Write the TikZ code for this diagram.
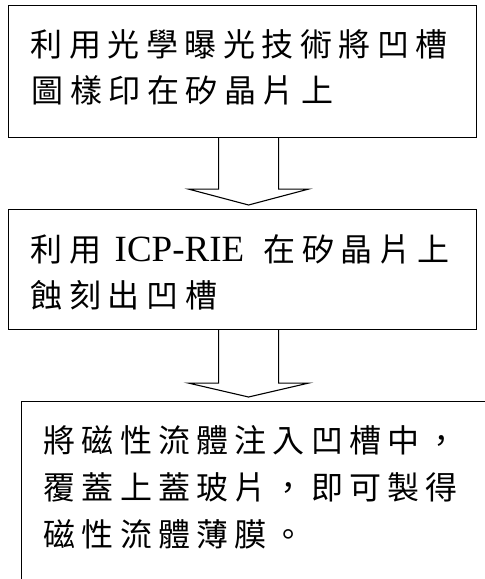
\documentclass[tikz,border=0pt]{standalone}
\usepackage{fontspec}
\setmainfont{Liberation Serif}
\newfontfamily\cjk{Noto Sans CJK TC}
\usetikzlibrary{calc}
\newcommand\cjkrow[2]{\def\rowpitch{#1}\rowloop#2\relax}
\def\rowloop#1{\ifx#1\relax\else\makebox[\rowpitch][l]{#1}\expandafter\rowloop\fi}
\tikzset{
  stepbox/.style={draw, line width=1.1pt, inner sep=0pt, anchor=north west},
  txtline/.style={anchor=west, inner sep=0pt, text height=28.2pt, text depth=3.8pt,
                  font=\cjk\fontsize{32}{38}\selectfont},
  hollowarrow/.style={draw, line width=1.1pt, line join=miter}
}
\begin{document}
\begin{tikzpicture}[x=1pt,y=1pt]
\useasboundingbox (0,0) rectangle (485,-579);
\clip (0,0) rectangle (485,-579);
\fill[white] (0,0) rectangle (485,-579);
% boxes
\node[stepbox, minimum width=468pt, minimum height=132pt] (b1) at (8,-5) {};
\node[stepbox, minimum width=468pt, minimum height=120pt] (b2) at (8,-209) {};
\node[stepbox, minimum width=480pt, minimum height=200pt] (b3) at (21,-401) {};
% texts
\node[txtline] (t1a) at (30.5,-44) {\cjkrow{38.5pt}{利用光學曝光技術將凹槽}};
\node[txtline] (t1b) at (31.5,-90) {\cjkrow{38.5pt}{圖樣印在矽晶片上}};
\node[txtline] (t2a) at (30.5,-249) {\cjkrow{38.5pt}{利用}\makebox[156pt][l]{\hspace{7pt}{\rmfamily\fontsize{37}{40}\selectfont ICP-RIE}}\cjkrow{38.5pt}{在矽晶片上}};
\node[txtline] (t2b) at (30.5,-295) {\cjkrow{38.6pt}{蝕刻出凹槽}};
\node[txtline] (t3a) at (43.5,-440) {\cjkrow{38.2pt}{將磁性流體注入凹槽中，}};
\node[txtline] (t3b) at (43.5,-487) {\cjkrow{38.2pt}{覆蓋上蓋玻片，即可製得}};
\node[txtline] (t3c) at (43.5,-534) {\cjkrow{38.2pt}{磁性流體薄膜。}};
% block arrows
\draw[hollowarrow] ($(b1.south)+(-24,0)$) -- ($(b1.south)+(-24,-51)$) -- ($(b1.south)+(-54,-51)$)
  -- ($(b2.north)+(6,4)$) -- ($(b1.south)+(66,-51)$) -- ($(b1.south)+(36,-51)$) -- ($(b1.south)+(36,0)$);
\coordinate (tip2) at ($(b2.south |- b3.north)+(6,4)$);
\draw[hollowarrow] ($(b2.south)+(-24,0)$) -- ($(b2.south)+(-24,-53)$) -- ($(b2.south)+(-54,-53)$)
  -- (tip2) -- ($(b2.south)+(66,-53)$) -- ($(b2.south)+(36,-53)$) -- ($(b2.south)+(36,0)$);
\end{tikzpicture}
\end{document}
